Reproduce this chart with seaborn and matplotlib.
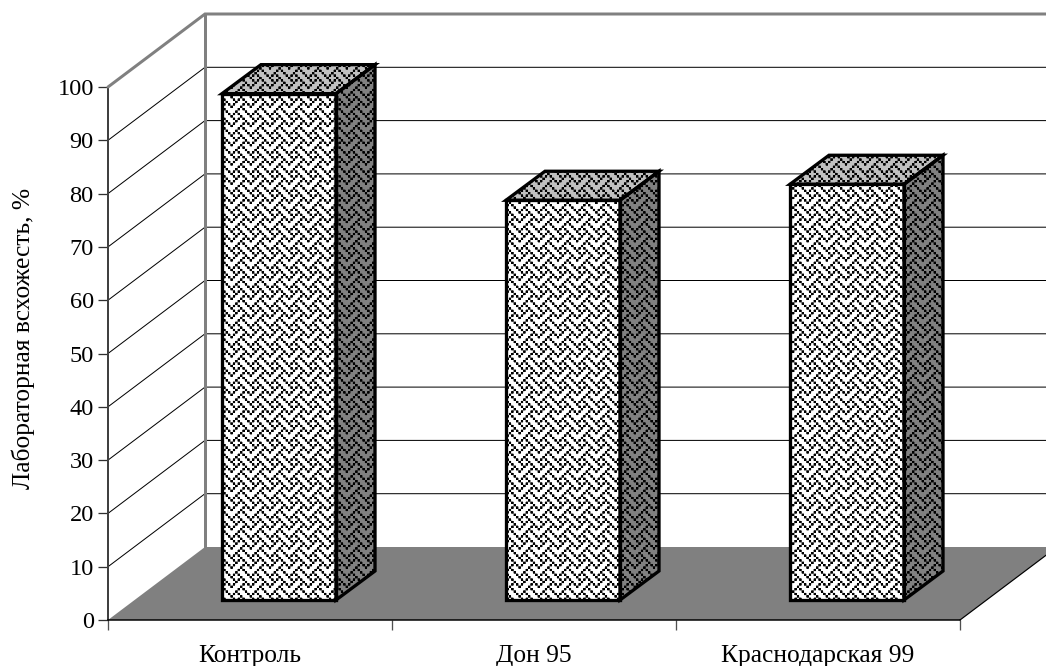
import numpy as np
import pandas as pd
import matplotlib
matplotlib.use("Agg")
import matplotlib.pyplot as plt
import seaborn as sns
from matplotlib.patches import Polygon
from matplotlib.path import Path
from matplotlib.transforms import Affine2D, IdentityTransform

varieties = ["Контроль", "Дон 95", "Краснодарская 99"]
germination = [95, 75, 78]
y_ticks = list(range(0, 101, 10))
y_title = "Лабораторная всхожесть, %"

WIDTH, HEIGHT = 1046, 666
DEPTH = np.array([97.0, 73.0])      # oblique offset of the back wall, px
BAR_NEAR = np.array([29.0, 20.0])   # offset of a bar's front face, px
BAR_FAR = np.array([68.0, 49.0])    # offset of a bar's rear face, px
GRAY = "#808080"
PX = 0.72

sns.set_theme(style="white")
plt.rcParams["font.family"] = ["Liberation Serif", "DejaVu Serif"]

fig = plt.figure(figsize=(WIDTH / 100, HEIGHT / 100), dpi=100, facecolor="white")
ax = fig.add_axes([108 / WIDTH, (HEIGHT - 620) / HEIGHT, 852 / WIDTH, 533 / HEIGHT])
ax.patch.set_visible(False)

frame = pd.DataFrame({"variety": varieties, "germination": germination})
sns.barplot(data=frame, x="variety", y="germination", order=varieties,
            width=114 / 284, color="white", saturation=1, ax=ax, zorder=6)
ax.set_xlim(-0.5, 2.5)
ax.set_ylim(0, 100)


def to_px(x, y, offset=(0.0, 0.0)):
    """Project a data point to display pixels, shifted into the depth of the box."""
    return ax.transData.transform((x, y)) + np.asarray(offset)


# Woven dot texture used on each bar face: an 8x8 cell pattern at 2.4 px per cell,
# supersampled five times and averaged so the dots stay evenly spaced.
weave = np.array([[int(b) for b in f"{v:08b}"]
                  for v in (0x88, 0x54, 0x22, 0x45, 0x88, 0x14, 0x22, 0x51)])
FINE = 5
fine_rows = (np.arange(HEIGHT * FINE) // 12) % 8
fine_cols = (np.arange(WIDTH * FINE) // 12) % 8
fine = weave[np.ix_(fine_rows, fine_cols)].astype(float)
dots = fine.reshape(HEIGHT, FINE, WIDTH, FINE).mean(axis=(1, 3))
dots = np.clip((dots - 0.15) / 0.6, 0, 1)


def textured(points, base):
    """Fill a display-space polygon with the weave on a base colour and outline it."""
    rgb = np.array(matplotlib.colors.to_rgb(base))
    pic = (1 - dots[..., None]) * rgb[None, None, :]
    im = ax.imshow(pic, extent=(0, WIDTH, 0, HEIGHT), origin="upper",
                   transform=IdentityTransform(), interpolation="nearest",
                   aspect="auto", zorder=5)
    im.set_clip_box(fig.bbox)
    im.set_clip_path(Path(np.vstack([points, points[:1]]), closed=True), IdentityTransform())
    ax.add_patch(Polygon(points, closed=True, fill=False, edgecolor="black",
                         linewidth=3.3 * PX, joinstyle="miter",
                         transform=IdentityTransform(), clip_on=False, zorder=7))


# Floor
floor = np.array([to_px(-0.5, 0), to_px(2.5, 0), to_px(2.5, 0, DEPTH), to_px(-0.5, 0, DEPTH)])
ax.add_patch(Polygon(floor, closed=True, facecolor=GRAY, edgecolor="none",
                     transform=IdentityTransform(), clip_on=False, zorder=1))
right_edge = np.array([floor[1], floor[2]])
ax.plot(right_edge[:, 0], right_edge[:, 1], color="black", lw=1.2 * PX,
        transform=IdentityTransform(), clip_on=False, zorder=2)

# Wall grid: diagonals on the side wall, horizontals on the back wall
for tick in y_ticks[1:-1]:
    a, b = to_px(-0.5, tick), to_px(-0.5, tick, DEPTH)
    c = to_px(2.5, tick, DEPTH)
    ax.plot([a[0], b[0], c[0]], [a[1], b[1], c[1]], color="black", lw=1.0 * PX,
            transform=IdentityTransform(), clip_on=False, zorder=2)

# Wall outline
a, b, c, d = to_px(-0.5, 100), to_px(-0.5, 100, DEPTH), to_px(2.5, 100, DEPTH), to_px(-0.5, 0, DEPTH)
ax.plot([a[0], b[0], c[0]], [a[1], b[1], c[1]], color=GRAY, lw=3 * PX,
        transform=IdentityTransform(), clip_on=False, zorder=3, solid_joinstyle="miter")
ax.plot([b[0], d[0]], [b[1], d[1]], color=GRAY, lw=3 * PX,
        transform=IdentityTransform(), clip_on=False, zorder=3)

# Bars: the seaborn rectangles become the front faces, pushed onto the floor
for bar in ax.patches:
    if not isinstance(bar, matplotlib.patches.Rectangle) or bar.get_height() <= 0:
        continue
    x0, x1, v = bar.get_x(), bar.get_x() + bar.get_width(), bar.get_height()
    p00, p10 = to_px(x0, 0, BAR_NEAR), to_px(x1, 0, BAR_NEAR)
    p01, p11 = to_px(x0, v, BAR_NEAR), to_px(x1, v, BAR_NEAR)
    q10, q11 = to_px(x1, 0, BAR_FAR), to_px(x1, v, BAR_FAR)
    q01 = to_px(x0, v, BAR_FAR)
    bar.set_transform(ax.transData + Affine2D().translate(*BAR_NEAR))
    bar.set_clip_on(False)
    bar.set_facecolor("none")
    bar.set_edgecolor("none")
    textured(np.array([p00, p10, p11, p01]), "white")
    textured(np.array([p10, q10, q11, p11]), GRAY)
    textured(np.array([p01, p11, q11, q01]), "#c0c0c0")

# Axes furniture
sns.despine(ax=ax, top=True, right=True)
ax.spines["left"].set_color("#404040")
ax.spines["left"].set_linewidth(2 * PX)
ax.spines["bottom"].set_color("black")
ax.spines["bottom"].set_linewidth(1.5 * PX)
ax.set_yticks(y_ticks)
ax.set_xticks([-0.5, 0.5, 1.5, 2.5], minor=True)
ax.tick_params(axis="y", which="major", left=True, length=10 * PX, width=1.3 * PX,
               color="#303030", labelsize=17.6, pad=3, labelcolor="black")
ax.tick_params(axis="x", which="minor", bottom=True, length=10 * PX, width=1.3 * PX, color="#505050")
ax.tick_params(axis="x", which="major", bottom=False, length=0, labelsize=18.4, pad=18, labelcolor="black")
ax.set_xlabel("")
ax.set_ylabel("")
fig.text(23 / WIDTH, 1 - 338 / HEIGHT, y_title, rotation=90, ha="center", va="center",
         fontsize=18.4, color="black")

fig.savefig("out.png", dpi=100, facecolor="white")
